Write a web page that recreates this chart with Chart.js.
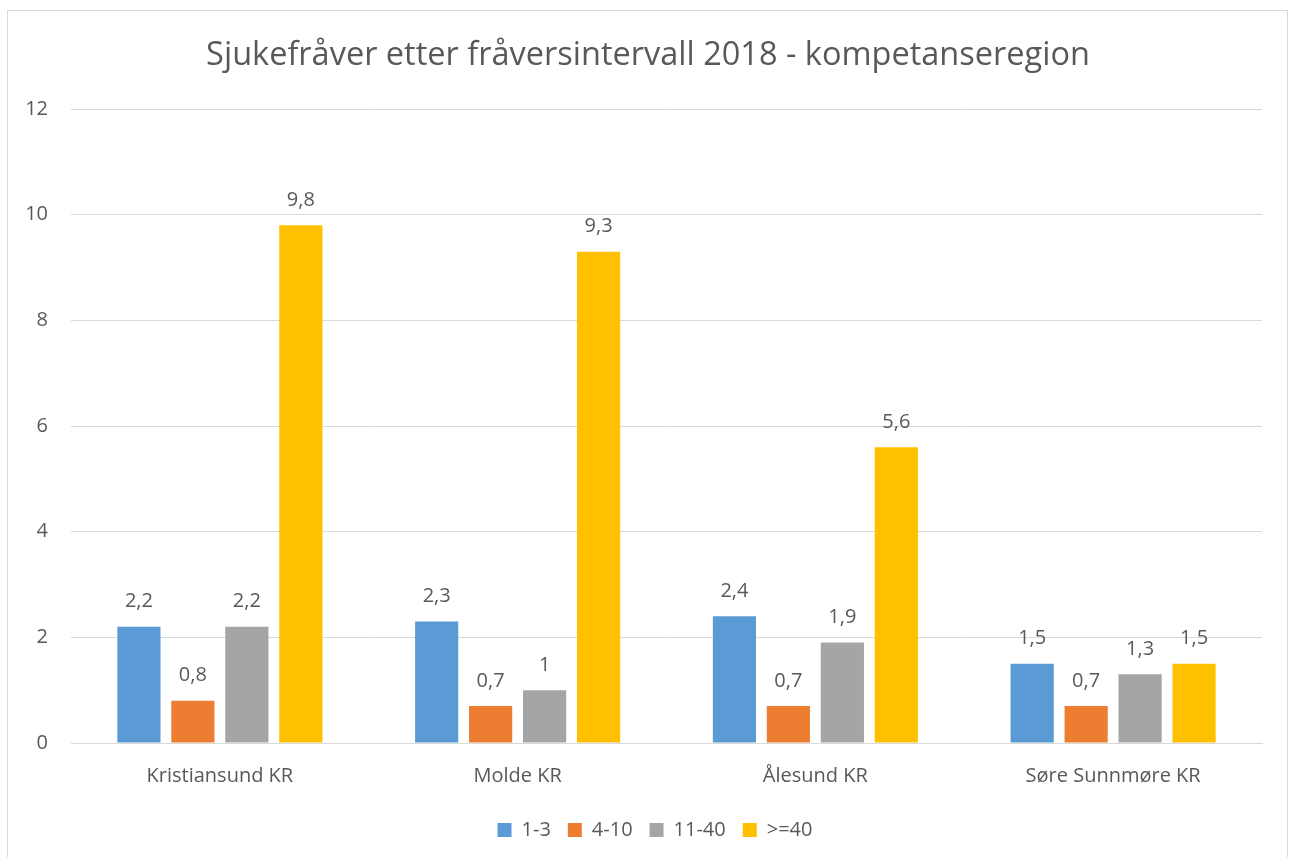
<!DOCTYPE html>
<html>
<head>
<meta charset="utf-8">
<script src="https://cdn.jsdelivr.net/npm/chart.js@4.4.0/dist/chart.umd.min.js"></script>
<style>
  html, body { margin: 0; padding: 0; background: #fff; overflow: hidden; }
  #frame {
    position: absolute; left: 7px; top: 10px;
    width: 1279px; height: 846px;
    border: 1px solid #d9d9d9; border-bottom: none;
  }
</style>
</head>
<body>
<div id="frame"><canvas id="chart"></canvas></div>
<script>
// --- DATA ---
const regions = ['Kristiansund KR', 'Molde KR', 'Ålesund KR', 'Søre Sunnmøre KR'];
const seriesNames = ['1-3', '4-10', '11-40', '>=40'];
const days1to3 = [2.2, 2.3, 2.4, 1.5];
const days4to10 = [0.8, 0.7, 0.7, 0.7];
const days11to40 = [2.2, 1, 1.9, 1.3];
const days40plus = [9.8, 9.3, 5.6, 1.5];
const yTicks = [0, 2, 4, 6, 8, 10, 12];

const colors = ['#5B9BD5', '#ED7D31', '#A5A5A5', '#FFC000'];
const textColor = '#595959';
const fontFamily = '"Open Sans", "Liberation Sans", sans-serif';

// draws the value above each bar, with Norwegian decimal comma
const valueLabels = {
  id: 'valueLabels',
  afterDatasetsDraw(chart) {
    const ctx = chart.ctx;
    ctx.save();
    ctx.font = '20px ' + fontFamily;
    ctx.fillStyle = textColor;
    ctx.textAlign = 'center';
    ctx.textBaseline = 'middle';
    chart.data.datasets.forEach((ds, i) => {
      chart.getDatasetMeta(i).data.forEach((bar, j) => {
        const txt = String(ds.data[j]).replace('.', ',');
        ctx.fillText(txt, bar.x, bar.y - 25);
      });
    });
    ctx.restore();
  }
};

// Excel centres title and legend on the frame, not on the padded area
const boxShift = {
  id: 'boxShift',
  afterLayout(chart) {
    if (chart.legend) {
      chart.legend.left += 20;
      chart.legend.right += 20;
    }
    if (chart.titleBlock) {
      chart.titleBlock.left += 13;
      chart.titleBlock.right += 13;
    }
  }
};

const allSeries = [days1to3, days4to10, days11to40, days40plus];

new Chart(document.getElementById('chart'), {
  type: 'bar',
  data: {
    labels: regions,
    datasets: allSeries.map((d, i) => ({
      label: seriesNames[i],
      data: d,
      backgroundColor: colors[i],
      categoryPercentage: 0.725,
      barPercentage: 0.8
    }))
  },
  options: {
    responsive: true,
    maintainAspectRatio: false,
    animation: false,
    layout: { padding: { left: 0, right: 25, top: 0, bottom: 7 } },
    scales: {
      x: {
        grid: { display: false, drawTicks: false },
        border: { color: '#d9d9d9', width: 1 },
        ticks: { color: textColor, font: { size: 20, family: fontFamily }, padding: 21 },
        afterFit: s => { s.height -= 6; }
      },
      y: {
        min: 0,
        max: 12,
        afterBuildTicks: s => { s.ticks = yTicks.map(v => ({ value: v })); },
        afterFit: s => { s.width = 63; },
        grid: { color: '#d9d9d9', drawTicks: false },
        border: { display: false },
        ticks: { color: textColor, font: { size: 20, family: fontFamily }, padding: 23 }
      }
    },
    plugins: {
      title: {
        display: true,
        text: 'Sjukefråver etter fråversintervall 2018 - kompetanseregion',
        color: textColor,
        font: { size: 32.5, family: fontFamily, weight: 'normal' },
        padding: { top: 25, bottom: 34 }
      },
      legend: {
        position: 'bottom',
        labels: {
          color: textColor,
          font: { size: 20, family: fontFamily },
          boxWidth: 14,
          boxHeight: 14,
          padding: 17
        }
      },
      tooltip: { enabled: false }
    }
  },
  plugins: [valueLabels, boxShift]
});
</script>
</body>
</html>
